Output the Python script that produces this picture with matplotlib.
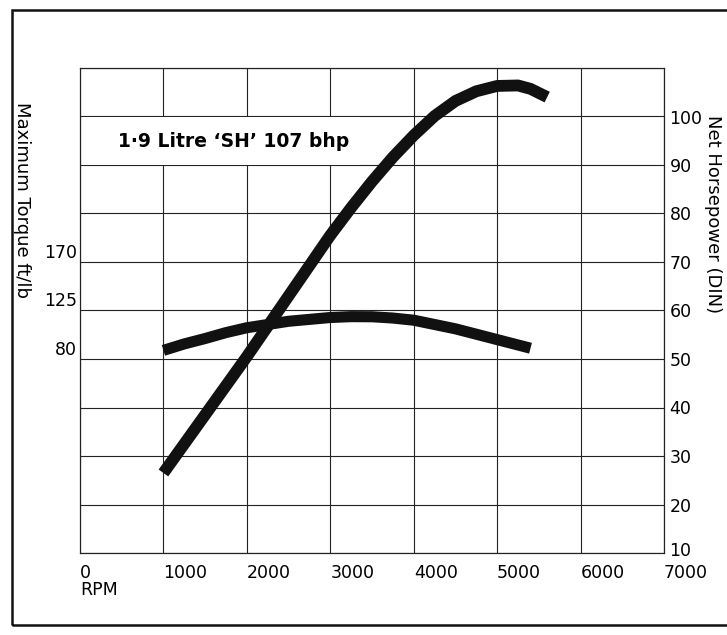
import matplotlib.pyplot as plt
import matplotlib.transforms as mtransforms
from matplotlib.patches import Rectangle

# ==========================================
# 数据
# ==========================================
rpm_hp = [1000, 1500, 2000, 2500, 3000, 3250, 3500, 3750, 4000, 4250, 4500, 4750,
          5000, 5250, 5400, 5600]
hp = [26.5, 38.5, 50.5, 63, 75.5, 81.2, 86.6, 91.6, 96.1, 100.1, 103.2, 105.2,
      106.3, 106.4, 105.7, 104]

rpm_tq = [1000, 1250, 1500, 1750, 2000, 2500, 3000, 3250, 3500, 3750, 4000, 4500, 5000, 5400]
torque = [88, 94, 99, 104.5, 109, 115, 118.5, 119.3, 119.2, 118, 116, 108, 98, 90]

rpm_ticks = [0, 1000, 2000, 3000, 4000, 5000, 6000, 7000]
hp_ticks = [10, 20, 30, 40, 50, 60, 70, 80, 90, 100]
torque_ticks = [80, 125, 170]

title_text = "1\u00b79 Litre \u2018SH\u2019 107 bhp"

plt.rcParams['font.family'] = ['DejaVu Sans']

fig = plt.figure(figsize=(7.27, 6.35), dpi=100)
ax_tq = fig.add_axes([80 / 727, 1 - 553 / 635, 584 / 727, 485 / 635])
ax_hp = ax_tq.twinx()

# 扭矩轴：80/125/170 对齐马力轴的 50/60/70 网格线
ax_tq.set_ylim(-100, 350)
ax_hp.set_ylim(10, 110)
ax_tq.set_xlim(0, 7000)

# 网格
ax_hp.set_yticks(hp_ticks + [110])
ax_hp.set_yticklabels([str(v) for v in hp_ticks] + [''])
ax_tq.set_xticks(rpm_ticks)
ax_tq.set_xticklabels([str(v) for v in rpm_ticks])
ax_tq.set_yticks(torque_ticks)
ax_tq.set_yticklabels([str(v) for v in torque_ticks])
ax_hp.grid(True, axis='y', color='#222222', linewidth=0.8)
ax_tq.grid(True, axis='x', color='#222222', linewidth=0.8)

for a in (ax_tq, ax_hp):
    for s in a.spines.values():
        s.set_linewidth(0.8)
        s.set_color('#222222')

ax_tq.tick_params(axis='x', length=0, pad=8, labelsize=12.5)
for lab in ax_tq.get_xticklabels():
    lab.set_horizontalalignment('left')
ax_tq.tick_params(axis='y', length=0, pad=2, labelsize=12.5)
for lab in ax_tq.get_yticklabels():
    lab.set_verticalalignment('bottom')
ax_hp.tick_params(axis='y', length=0, pad=4, labelsize=12.5)
# 最下面的 "10" 稍微上移，避免与 7000 重叠
lab10 = ax_hp.get_yticklabels()[0]
lab10.set_transform(lab10.get_transform() +
                    mtransforms.ScaledTranslation(0, 3 / 72, fig.dpi_scale_trans))

# 曲线
ax_tq.plot(rpm_tq, torque, color='#111111', linewidth=8, solid_capstyle='butt',
           solid_joinstyle='round', zorder=5)
ax_hp.plot(rpm_hp, hp, color='#111111', linewidth=8.5, solid_capstyle='butt',
           solid_joinstyle='round', zorder=5)

# 标题文字（白底遮住网格）
ax_hp.add_patch(Rectangle((0.004, 0.8), 0.475, 0.099, transform=ax_hp.transAxes,
                          facecolor='white', edgecolor='none', zorder=3))
ax_hp.text(0.263, 0.848, title_text, transform=ax_hp.transAxes, ha='center', va='center',
           fontsize=13.5, fontweight='semibold', zorder=4)

# 轴标题
fig.text(22 / 727, 1 - 200 / 635, 'Maximum Torque ft/lb', rotation=270,
         ha='center', va='center', fontsize=13)
fig.text(713 / 727, 1 - 214 / 635, 'Net Horsepower (DIN)', rotation=270,
         ha='center', va='center', fontsize=13)
fig.text(80 / 727, 1 - 590 / 635, 'RPM', ha='left', va='center', fontsize=12.5)

# 外框
fig.patches.append(Rectangle((12 / 727, 1 - 625 / 635), 1.2, 615 / 635,
                             transform=fig.transFigure, fill=False,
                             edgecolor='#111111', linewidth=1.8))

plt.savefig('out.png', dpi=100)
